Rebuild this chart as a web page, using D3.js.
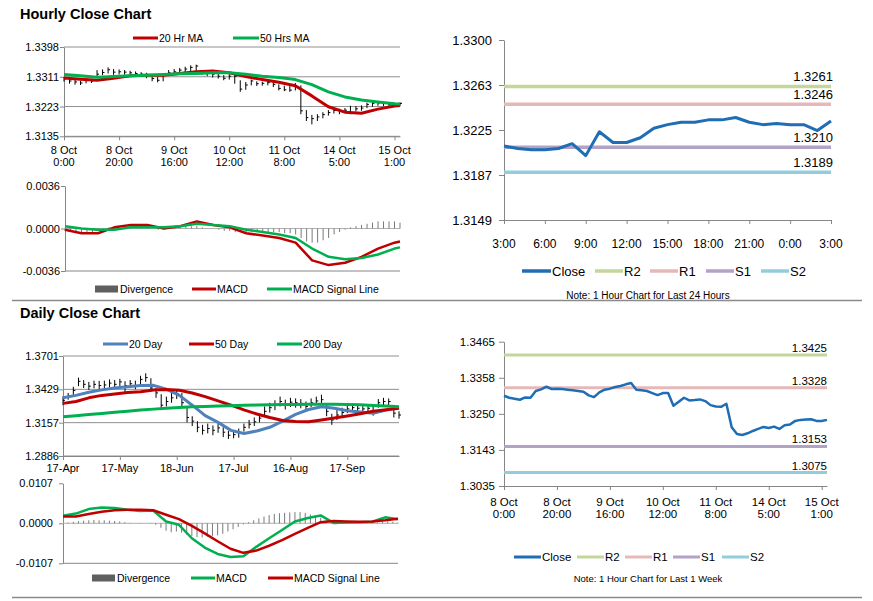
<!DOCTYPE html>
<html>
<head>
<meta charset="utf-8">
<script src="https://cdn.jsdelivr.net/npm/d3@7/dist/d3.min.js"></script>
<style>
  body { margin: 0; background: #fff; }
</style>
</head>
<body>
<script>
// ---------- hourly data, 8 Oct 0:00 .. 15 Oct 3:00 (one value every 2 hours) ----------
const hourIdx = d3.range(0, 123, 2);
const hourClose = [1.3304,1.3298,1.3295,1.3292,1.3299,1.3298,1.3318,1.3323,1.3331,1.3324,1.3325,1.3324,1.3322,1.3320,1.3318,1.3316,
  1.3305,1.3300,1.3314,1.3322,1.3325,1.3330,1.3333,1.3338,1.3342,1.3322,1.3320,1.3318,1.3312,1.3306,1.3312,1.3312,
  1.3274,1.3286,1.3298,1.3290,1.3291,1.3293,1.3288,1.3276,1.3272,1.3271,1.3280,1.3210,1.3190,1.3187,1.3192,1.3199,
  1.3205,1.3211,1.3208,1.3212,1.3205,1.3216,1.3218,1.3229,1.3232,1.3233,1.3234,1.3229,1.3229,1.3232];
const hourHigh = [1.3310,1.3305,1.3301,1.3299,1.3306,1.3305,1.3330,1.3332,1.3338,1.3333,1.3332,1.3330,1.3328,1.3326,1.3324,1.3322,
  1.3314,1.3310,1.3320,1.3330,1.3333,1.3336,1.3340,1.3344,1.3346,1.3330,1.3326,1.3323,1.3320,1.3315,1.3318,1.3316,
  1.3300,1.3295,1.3302,1.3297,1.3296,1.3298,1.3294,1.3288,1.3284,1.3283,1.3292,1.3285,1.3212,1.3198,1.3200,1.3206,
  1.3212,1.3218,1.3216,1.3218,1.3225,1.3224,1.3226,1.3234,1.3237,1.3238,1.3237,1.3236,1.3234,1.3235];
const hourLow = [1.3296,1.3290,1.3287,1.3286,1.3291,1.3292,1.3310,1.3315,1.3320,1.3316,1.3317,1.3316,1.3314,1.3312,1.3310,1.3306,
  1.3297,1.3294,1.3297,1.3314,1.3318,1.3322,1.3324,1.3326,1.3322,1.3316,1.3312,1.3308,1.3305,1.3300,1.3302,1.3290,
  1.3266,1.3272,1.3285,1.3283,1.3284,1.3285,1.3280,1.3270,1.3268,1.3266,1.3270,1.3200,1.3180,1.3170,1.3180,1.3188,
  1.3196,1.3202,1.3200,1.3204,1.3200,1.3208,1.3210,1.3218,1.3222,1.3225,1.3224,1.3222,1.3222,1.3224];

const maHourIdx = [0,6,12,18,24,30,36,42,48,54,60,66,72,78,84,90,96,102,108,114,120,122];
const ma20Hr = [1.3307,1.3303,1.3300,1.3306,1.3313,1.3315,1.3315,1.3320,1.3325,1.3327,1.3322,1.3311,
  1.3302,1.3294,1.3284,1.3254,1.3222,1.3206,1.3203,1.3215,1.3224,1.3226];
const ma50Hr = [1.3317,1.3313,1.3309,1.3311,1.3313,1.3315,1.3317,1.3319,1.3320,1.3322,1.3322,1.3318,
  1.3312,1.3308,1.3302,1.3287,1.3266,1.3251,1.3242,1.3236,1.3231,1.3230];
const macdHr = [-0.0001,-0.0004,-0.0004,0.0001,0.0003,0.0003,0.0000,0.0002,0.0006,0.0003,0.0001,-0.0004,
  -0.0006,-0.0008,-0.0012,-0.0027,-0.0031,-0.0029,-0.0024,-0.0017,-0.0012,-0.0011];
const signalHr = [0.0002,0.0000,-0.0001,-0.0001,0.0001,0.0001,0.0001,0.0002,0.0004,0.0003,0.0002,-0.0001,
  -0.0003,-0.0005,-0.0008,-0.0017,-0.0024,-0.0026,-0.0025,-0.0022,-0.0017,-0.0016];
const divHr = [-0.0002,-0.0003,-0.0003,-0.0004,-0.0004,-0.0003,-0.0002,-0.0001,0.0001,0.0002,0.0002,0.0002,0.0002,0.0002,0.0001,0.0001,
  0.0000,-0.0001,-0.0001,0.0000,0.0001,0.0001,0.0002,0.0002,0.0002,0.0001,0.0000,0.0000,-0.0001,-0.0002,-0.0002,-0.0003,
  -0.0003,-0.0003,-0.0003,-0.0003,-0.0003,-0.0003,-0.0003,-0.0003,-0.0004,-0.0004,-0.0005,-0.0008,-0.0011,-0.0012,-0.0012,-0.0010,
  -0.0008,-0.0005,-0.0003,-0.0001,0.0001,0.0002,0.0003,0.0004,0.0005,0.0006,0.0006,0.0006,0.0006,0.0005];

const hourTicks = [0, 20, 40, 60, 80, 100, 120];
const hourTickDays = ["8 Oct", "8 Oct", "9 Oct", "10 Oct", "11 Oct", "14 Oct", "15 Oct"];
const hourTickTimes = ["0:00", "20:00", "16:00", "12:00", "8:00", "5:00", "1:00"];

// ---------- last 24 hours ----------
const dayHours = d3.range(0, 25);
const close24 = [1.3211,1.3209,1.3208,1.3208,1.3209,1.3213,1.3203,1.3223,1.3214,1.3214,1.3218,1.3226,1.3229,
  1.3231,1.3231,1.3233,1.3233,1.3235,1.3231,1.3229,1.3230,1.3229,1.3229,1.3224,1.3232];
const ticks24 = [0, 3, 6, 9, 12, 15, 18, 21, 24];
const ticks24Labels = ["3:00", "6:00", "9:00", "12:00", "15:00", "18:00", "21:00", "0:00", "3:00"];

const levelNames = ["R2", "R1", "S1", "S2"];
const levels24 = [1.3261, 1.3246, 1.3210, 1.3189];
const levelsWeek = [1.3425, 1.3328, 1.3153, 1.3075];

// ---------- daily data (one value every 2 days, MAs every 5 days) ----------
const dayIdx = d3.range(0, 131, 2);
const dayClose = [1.3340,1.3375,1.3420,1.3495,1.3470,1.3455,1.3470,1.3460,1.3465,1.3480,1.3470,1.3490,1.3460,1.3475,1.3455,1.3510,
  1.3525,1.3440,1.3400,1.3300,1.3330,1.3360,1.3395,1.3320,1.3200,1.3170,1.3120,1.3095,1.3110,1.3095,1.3115,1.3080,
  1.3055,1.3060,1.3070,1.3120,1.3145,1.3165,1.3195,1.3250,1.3280,1.3300,1.3330,1.3300,1.3325,1.3320,1.3315,1.3290,
  1.3320,1.3335,1.3345,1.3250,1.3180,1.3220,1.3240,1.3270,1.3280,1.3275,1.3270,1.3275,1.3250,1.3320,1.3330,1.3330,1.3235,1.3220];
const dayHigh = [1.3372,1.3400,1.3450,1.3525,1.3505,1.3490,1.3500,1.3498,1.3500,1.3510,1.3505,1.3515,1.3495,1.3505,1.3500,1.3540,
  1.3560,1.3520,1.3440,1.3390,1.3370,1.3400,1.3430,1.3400,1.3280,1.3210,1.3170,1.3140,1.3150,1.3135,1.3150,1.3120,
  1.3090,1.3095,1.3110,1.3150,1.3180,1.3200,1.3230,1.3290,1.3320,1.3340,1.3370,1.3345,1.3360,1.3355,1.3350,1.3330,
  1.3355,1.3370,1.3385,1.3310,1.3230,1.3260,1.3280,1.3305,1.3315,1.3310,1.3305,1.3300,1.3290,1.3350,1.3360,1.3355,1.3300,1.3250];
const dayLow = [1.3300,1.3345,1.3380,1.3455,1.3440,1.3425,1.3438,1.3430,1.3432,1.3445,1.3440,1.3455,1.3400,1.3440,1.3430,1.3470,
  1.3490,1.3410,1.3360,1.3260,1.3290,1.3320,1.3350,1.3290,1.3160,1.3130,1.3080,1.3060,1.3070,1.3055,1.3075,1.3040,
  1.3025,1.3030,1.3035,1.3085,1.3110,1.3130,1.3160,1.3210,1.3240,1.3260,1.3290,1.3265,1.3285,1.3280,1.3275,1.3255,
  1.3285,1.3300,1.3300,1.3210,1.3140,1.3180,1.3205,1.3235,1.3245,1.3240,1.3235,1.3240,1.3215,1.3280,1.3295,1.3290,1.3200,1.3190];

const maDayIdx = d3.range(0, 131, 5);
const ma20Day = [1.3360,1.3380,1.3405,1.3425,1.3440,1.3450,1.3460,1.3462,1.3430,1.3380,1.3300,1.3215,1.3160,1.3095,
  1.3070,1.3090,1.3120,1.3170,1.3225,1.3265,1.3288,1.3275,1.3255,1.3245,1.3235,1.3260,1.3282];
const ma50Day = [1.3315,1.3330,1.3360,1.3380,1.3392,1.3403,1.3410,1.3424,1.3428,1.3422,1.3400,1.3370,1.3335,1.3300,
  1.3262,1.3228,1.3200,1.3175,1.3168,1.3165,1.3180,1.3195,1.3212,1.3230,1.3250,1.3262,1.3275];
const ma200Day = [1.3206,1.3215,1.3224,1.3233,1.3242,1.3251,1.3260,1.3268,1.3276,1.3282,1.3287,1.3290,1.3293,1.3296,
  1.3299,1.3301,1.3303,1.3305,1.3306,1.3307,1.3307,1.3307,1.3306,1.3303,1.3298,1.3293,1.3288];
const macdDay = [0.0020,0.0026,0.0038,0.0042,0.0041,0.0036,0.0033,0.0034,0.0005,-0.0004,-0.0040,-0.0065,-0.0082,-0.0090,
  -0.0088,-0.0063,-0.0040,-0.0018,0.0005,0.0014,0.0021,0.0001,0.0002,0.0003,0.0004,0.0016,0.0011];
const signalDay = [0.0018,0.0018,0.0025,0.0031,0.0035,0.0036,0.0036,0.0035,0.0023,0.0011,-0.0007,-0.0027,-0.0048,-0.0068,
  -0.0079,-0.0073,-0.0060,-0.0045,-0.0028,-0.0012,0.0003,0.0006,0.0005,0.0004,0.0005,0.0008,0.0012];
const divDay = [0.0000,0.0002,0.0004,0.0006,0.0007,0.0008,0.0009,0.0008,0.0008,0.0007,0.0006,0.0005,0.0003,0.0001,0.0000,-0.0001,
  0.0000,0.0001,-0.0004,-0.0012,-0.0020,-0.0024,-0.0022,-0.0025,-0.0030,-0.0034,-0.0037,-0.0038,-0.0036,-0.0034,-0.0032,-0.0028,
  -0.0022,-0.0016,-0.0010,-0.0003,0.0003,0.0008,0.0013,0.0018,0.0022,0.0025,0.0027,0.0028,0.0029,0.0030,0.0030,0.0028,
  0.0024,0.0020,0.0015,0.0008,0.0002,-0.0002,-0.0002,-0.0001,0.0000,0.0000,0.0001,0.0001,0.0001,0.0002,0.0004,0.0005,0.0004,0.0002];

const dayTicks = [0, 22, 44, 66, 88, 110];
const dayTickLabels = ["17-Apr", "17-May", "18-Jun", "17-Jul", "16-Aug", "17-Sep"];

// tick labels, bottom to top
const hourlyYLabels = ["1.3135", "1.3223", "1.3311", "1.3398"];
const hourlyMacdLabels = ["-0.0036", "0.0000", "0.0036"];
const y24Labels = ["1.3149", "1.3187", "1.3225", "1.3263", "1.3300"];
const yWeekLabels = ["1.3035", "1.3143", "1.3250", "1.3358", "1.3465"];
const dailyYLabels = ["1.2886", "1.3157", "1.3429", "1.3701"];
const dailyMacdLabels = ["-0.0107", "0.0000", "0.0107"];

// ---------- drawing ----------
const FONT = "'Liberation Sans', Arial, sans-serif";
const AXIS = "#868686";
const RED = "#c00000", GREEN = "#00b050", BLUE = "#4f81bd", CLOSE = "#1f6db4";
const levelColors = ["#c3d69b", "#e6b9b8", "#b3a2c7", "#93cddd"];

const svg = d3.select("body").append("svg")
  .attr("width", 873).attr("height", 601)
  .style("font-family", FONT);

function styleAxis(g, fs) {
  g.attr("font-family", FONT).attr("font-size", fs);
  g.select(".domain").attr("stroke", AXIS);
  g.selectAll(".tick line").attr("stroke", AXIS);
  g.selectAll(".tick text").attr("fill", "#000");
}

// excel style: labels spaced evenly between axis min and max
function evenTicks(y, n) {
  const d = y.domain();
  return d3.range(n).map(k => d[0] + k * (d[1] - d[0]) / (n - 1));
}

function yAxis(y, x0, labels, fs, size, pad) {
  const ticks = evenTicks(y, labels.length);
  const g = svg.append("g").attr("transform", `translate(${x0},0)`)
    .call(d3.axisLeft(y).tickValues(ticks).tickFormat((d, i) => labels[i])
      .tickSizeInner(size).tickSizeOuter(0).tickPadding(pad));
  styleAxis(g, fs);
  return ticks;
}

function grid(y, ticks, x0, x1) {
  svg.append("g").selectAll("line").data(ticks).join("line")
    .attr("x1", x0).attr("x2", x1)
    .attr("y1", d => y(d)).attr("y2", d => y(d))
    .attr("stroke", "#8f8f8f");
}

function xAxis(x, y0, ticks, rows, fs, dy, lineH) {
  const g = svg.append("g").attr("transform", `translate(0,${y0})`)
    .call(d3.axisBottom(x).tickValues(ticks).tickFormat("").tickSizeInner(4).tickSizeOuter(0));
  styleAxis(g, fs);
  ticks.forEach((t, i) => {
    const txt = svg.append("text").attr("x", x(t)).attr("y", y0 + dy)
      .attr("text-anchor", "middle").attr("font-size", fs);
    rows.forEach((r, j) => txt.append("tspan").attr("x", x(t)).attr("dy", j ? lineH : 0).text(r[i]));
  });
}

function plotLine(xs, ys, x, y, color, w) {
  svg.append("path").datum(ys)
    .attr("fill", "none").attr("stroke", color).attr("stroke-width", w)
    .attr("stroke-linejoin", "round")
    .attr("d", d3.line().x((d, i) => x(xs[i])).y(d => y(d)));
}

function hlBars(xs, hi, lo, cl, x, y) {
  const g = svg.append("g").attr("stroke", "#000");
  g.selectAll("line.hl").data(xs).join("line").attr("class", "hl")
    .attr("x1", d => x(d)).attr("x2", d => x(d))
    .attr("y1", (d, i) => y(hi[i])).attr("y2", (d, i) => y(lo[i]));
  g.selectAll("line.cl").data(xs).join("line").attr("class", "cl")
    .attr("x1", d => x(d)).attr("x2", d => x(d) + 2)
    .attr("y1", (d, i) => y(cl[i])).attr("y2", (d, i) => y(cl[i]));
}

function histo(xs, vals, x, y, color) {
  svg.append("g").selectAll("line").data(vals).join("line")
    .attr("x1", (d, i) => x(xs[i])).attr("x2", (d, i) => x(xs[i]))
    .attr("y1", y(0)).attr("y2", d => y(d))
    .attr("stroke", color).attr("stroke-width", 1);
}

function legendLine(x1, x2, yc, color, w, label, fs) {
  svg.append("line").attr("x1", x1).attr("x2", x2).attr("y1", yc).attr("y2", yc)
    .attr("stroke", color).attr("stroke-width", w);
  svg.append("text").attr("x", x2 + 1).attr("y", yc).attr("dy", "0.35em")
    .attr("font-size", fs).text(label);
}

function legendBox(x1, x2, yc, label, fs) {
  svg.append("rect").attr("x", x1).attr("y", yc - 3.5).attr("width", x2 - x1).attr("height", 7)
    .attr("fill", "#5f5f5f");
  svg.append("text").attr("x", x2 + 2).attr("y", yc).attr("dy", "0.35em")
    .attr("font-size", fs).text(label);
}

function title(txt, y) {
  svg.append("text").attr("x", 20).attr("y", y).attr("font-size", 14.5)
    .attr("font-weight", "bold").text(txt);
}

// separators
[300.5, 597.5].forEach(v => svg.append("line").attr("x1", 12).attr("x2", 862)
  .attr("y1", v).attr("y2", v).attr("stroke", "#8a8a8a").attr("stroke-width", 1.5));

// ===== Hourly close chart =====
title("Hourly Close Chart", 18.5);
{
  const x = d3.scaleLinear().domain([0, 122]).range([64, 400]);
  const y = d3.scaleLinear().domain([1.3135, 1.3398]).range([136.3, 47]);
  const t = yAxis(y, 64, hourlyYLabels, 11, 4, 1);
  grid(y, t, 64, 400);
  xAxis(x, 136.3, hourTicks, [hourTickDays, hourTickTimes], 11, 18, 12);
  hlBars(hourIdx, hourHigh, hourLow, hourClose, x, y);
  plotLine(maHourIdx, ma20Hr, x, y, RED, 3);
  plotLine(maHourIdx, ma50Hr, x, y, GREEN, 3);
  legendLine(133, 158, 38, RED, 3, "20 Hr MA", 10.5);
  legendLine(233, 259, 38, GREEN, 3, "50 Hrs MA", 10.5);
}
{
  const x = d3.scaleLinear().domain([0, 122]).range([65, 400]);
  const y = d3.scaleLinear().domain([-0.0036, 0.0036]).range([271, 186]);
  yAxis(y, 65, hourlyMacdLabels, 11, 4, 1);
  svg.append("line").attr("x1", 65).attr("x2", 400).attr("y1", 271).attr("y2", 271).attr("stroke", AXIS);
  svg.append("line").attr("x1", 65).attr("x2", 400).attr("y1", y(0)).attr("y2", y(0)).attr("stroke", "#b0b0b0");
  histo(hourIdx, divHr, x, y, "#7a7a7a");
  plotLine(maHourIdx, macdHr, x, y, RED, 2.5);
  plotLine(maHourIdx, signalHr, x, y, GREEN, 2.5);
  legendBox(95, 118, 289, "Divergence", 10.5);
  legendLine(192, 216, 289, RED, 3, "MACD", 10.5);
  legendLine(267, 292, 289, GREEN, 3, "MACD Signal Line", 10.5);
}

// ===== Last 24 hours =====
{
  const x = d3.scaleLinear().domain([0, 24]).range([504, 831]);
  const y = d3.scaleLinear().domain([1.3149, 1.3300]).range([220, 40]);
  yAxis(y, 504, y24Labels, 13, 5, 7);
  xAxis(x, 220, ticks24, [ticks24Labels], 12, 27.5, 0);
  levels24.forEach((v, i) => {
    svg.append("line").attr("x1", 504).attr("x2", 831).attr("y1", y(v)).attr("y2", y(v))
      .attr("stroke", levelColors[i]).attr("stroke-width", 3.5);
  });
  plotLine(dayHours, close24, x, y, CLOSE, 3);
  levels24.forEach(v => {
    svg.append("text").attr("x", 833).attr("y", y(v) - 5).attr("text-anchor", "end")
      .attr("font-size", 13).text(v.toFixed(4));
  });
  legendLine(522, 551, 271, CLOSE, 3.5, "Close", 13);
  const lx = [595, 650, 706, 761];
  levelNames.forEach((n, i) => legendLine(lx[i], lx[i] + 28, 271, levelColors[i], 3.5, n, 13));
  svg.append("text").attr("x", 648).attr("y", 298.5).attr("text-anchor", "middle")
    .attr("font-size", 10).text("Note: 1 Hour Chart for Last 24 Hours");
}

// ===== Daily close chart =====
title("Daily Close Chart", 318);
{
  const x = d3.scaleLinear().domain([0, 130]).range([63, 399]);
  const y = d3.scaleLinear().domain([1.2886, 1.3701]).range([456, 356]);
  const t = yAxis(y, 63, dailyYLabels, 11, 4, 0);
  grid(y, t, 63, 399);
  xAxis(x, 456, dayTicks, [dayTickLabels], 11, 16, 0);
  hlBars(dayIdx, dayHigh, dayLow, dayClose, x, y);
  plotLine(maDayIdx, ma20Day, x, y, BLUE, 3);
  plotLine(maDayIdx, ma50Day, x, y, RED, 3);
  plotLine(maDayIdx, ma200Day, x, y, GREEN, 3);
  legendLine(103, 128, 344, BLUE, 3, "20 Day", 10.5);
  legendLine(189, 214, 344, RED, 3, "50 Day", 10.5);
  legendLine(277, 302, 344, GREEN, 3, "200 Day", 10.5);
}
{
  const x = d3.scaleLinear().domain([0, 130]).range([63, 398]);
  const y = d3.scaleLinear().domain([-0.0107, 0.0107]).range([563.3, 483.3]);
  yAxis(y, 63, dailyMacdLabels, 11, 4, 6);
  svg.append("line").attr("x1", 63).attr("x2", 398).attr("y1", 563.3).attr("y2", 563.3).attr("stroke", AXIS);
  svg.append("line").attr("x1", 63).attr("x2", 398).attr("y1", y(0)).attr("y2", y(0)).attr("stroke", "#b0b0b0");
  histo(dayIdx, divDay, x, y, "#7a7a7a");
  plotLine(maDayIdx, macdDay, x, y, GREEN, 2.5);
  plotLine(maDayIdx, signalDay, x, y, RED, 2.5);
  legendBox(92, 115, 578, "Divergence", 10.5);
  legendLine(191, 215, 578, GREEN, 3, "MACD", 10.5);
  legendLine(268, 293, 578, RED, 3, "MACD Signal Line", 10.5);
}

// ===== Last week, hourly =====
{
  const x = d3.scaleLinear().domain([0, 122]).range([504, 827]);
  const y = d3.scaleLinear().domain([1.3035, 1.3465]).range([486, 341.7]);
  yAxis(y, 504, yWeekLabels, 11.5, 5, 4);
  xAxis(x, 486, hourTicks, [hourTickDays, hourTickTimes], 11.5, 19.5, 12.8);
  levelsWeek.forEach((v, i) => {
    svg.append("line").attr("x1", 504).attr("x2", 827).attr("y1", y(v)).attr("y2", y(v))
      .attr("stroke", levelColors[i]).attr("stroke-width", 3);
  });
  plotLine(hourIdx, hourClose, x, y, CLOSE, 2.5);
  levelsWeek.forEach(v => {
    svg.append("text").attr("x", 827).attr("y", y(v) - 3).attr("text-anchor", "end")
      .attr("font-size", 11.5).text(v.toFixed(4));
  });
  legendLine(514, 541, 557, CLOSE, 3, "Close", 11.5);
  const lx = [577, 625, 673, 722];
  levelNames.forEach((n, i) => legendLine(lx[i], lx[i] + 27, 557, levelColors[i], 3, n, 11.5));
  svg.append("text").attr("x", 648).attr("y", 581.5).attr("text-anchor", "middle")
    .attr("font-size", 9.5).text("Note: 1 Hour Chart for  Last 1 Week");
}
</script>
</body>
</html>
